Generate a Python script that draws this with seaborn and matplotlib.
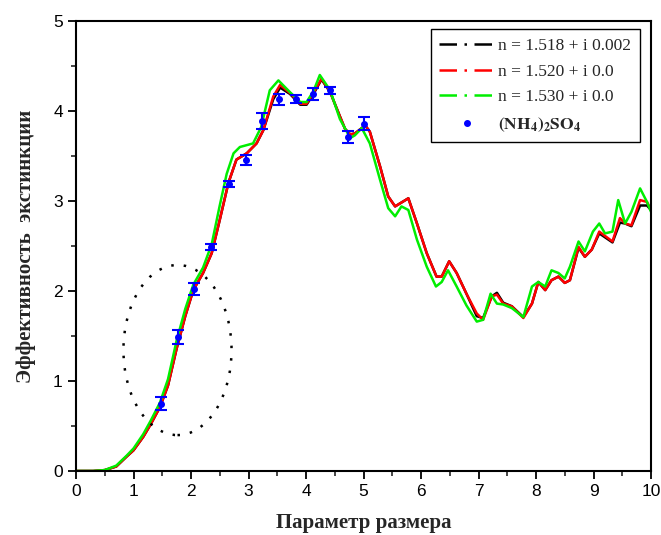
import matplotlib
matplotlib.use("Agg")
import matplotlib.pyplot as plt
from matplotlib.lines import Line2D
from matplotlib.patches import Ellipse
import seaborn as sns
import numpy as np

# ---------------- data ----------------
x_black = [0.0, 0.3, 0.5, 0.7, 0.88, 1.0, 1.17, 1.3, 1.46, 1.6, 1.75, 1.9, 2.04, 2.21, 2.36,
           2.50, 2.65, 2.79, 2.97, 3.14, 3.26, 3.43, 3.55, 3.72, 3.90, 4.01, 4.13, 4.27, 4.42,
           4.59, 4.68, 4.77, 4.85, 5.03, 5.11, 5.29, 5.43, 5.55, 5.78, 5.93, 6.10, 6.27, 6.36,
           6.49, 6.62, 6.79, 6.97, 7.08, 7.23, 7.32, 7.43, 7.58, 7.78, 7.93, 8.04, 8.16, 8.27,
           8.39, 8.50, 8.59, 8.74, 8.85, 8.97, 9.10, 9.33, 9.46, 9.55, 9.66, 9.81, 9.93, 10.0]
y_black = [0.0, 0.0, 0.01, 0.05, 0.16, 0.23, 0.38, 0.52, 0.71, 0.95, 1.36, 1.72, 2.01, 2.20, 2.42,
           2.79, 3.20, 3.46, 3.53, 3.64, 3.79, 4.13, 4.26, 4.19, 4.07, 4.07, 4.19, 4.35, 4.21,
           3.94, 3.80, 3.74, 3.75, 3.84, 3.77, 3.38, 3.05, 2.94, 3.03, 2.75, 2.42, 2.16, 2.16,
           2.33, 2.20, 1.97, 1.72, 1.70, 1.94, 1.98, 1.87, 1.83, 1.71, 1.86, 2.10, 2.01, 2.12,
           2.16, 2.09, 2.12, 2.48, 2.38, 2.46, 2.64, 2.54, 2.76, 2.75, 2.72, 2.95, 2.95, 2.90]

x_red = x_black
y_red = [0.0, 0.0, 0.01, 0.05, 0.16, 0.23, 0.38, 0.52, 0.71, 0.95, 1.36, 1.72, 2.01, 2.20, 2.42,
         2.79, 3.20, 3.46, 3.53, 3.64, 3.79, 4.16, 4.29, 4.20, 4.08, 4.08, 4.20, 4.36, 4.21,
         3.94, 3.80, 3.74, 3.75, 3.84, 3.77, 3.38, 3.05, 2.94, 3.03, 2.75, 2.42, 2.16, 2.16,
         2.33, 2.20, 1.97, 1.75, 1.68, 1.94, 1.96, 1.86, 1.83, 1.70, 1.86, 2.10, 2.01, 2.12,
         2.16, 2.09, 2.12, 2.49, 2.38, 2.46, 2.66, 2.55, 2.81, 2.75, 2.73, 3.01, 2.99, 2.90]

x_green = [0.0, 0.3, 0.5, 0.7, 0.88, 1.0, 1.17, 1.3, 1.46, 1.6, 1.75, 1.9, 2.04, 2.21, 2.36,
           2.50, 2.62, 2.74, 2.85, 3.08, 3.22, 3.37, 3.52, 3.72, 3.90, 4.01, 4.13, 4.24, 4.42,
           4.59, 4.77, 4.85, 4.97, 5.11, 5.29, 5.43, 5.55, 5.66, 5.78, 5.93, 6.10, 6.26, 6.36,
           6.47, 6.62, 6.79, 6.97, 7.08, 7.21, 7.32, 7.43, 7.58, 7.78, 7.93, 8.04, 8.16, 8.27,
           8.39, 8.50, 8.59, 8.74, 8.85, 8.99, 9.10, 9.20, 9.33, 9.43, 9.55, 9.66, 9.81, 9.93, 10.0]
y_green = [0.0, 0.0, 0.01, 0.06, 0.17, 0.25, 0.41, 0.56, 0.76, 1.02, 1.45, 1.80, 2.07, 2.26, 2.52,
           2.95, 3.30, 3.53, 3.60, 3.64, 3.82, 4.23, 4.34, 4.21, 4.10, 4.10, 4.22, 4.40, 4.23,
           3.91, 3.70, 3.73, 3.81, 3.64, 3.23, 2.92, 2.83, 2.94, 2.90, 2.57, 2.27, 2.05, 2.10,
           2.23, 2.05, 1.84, 1.66, 1.68, 1.97, 1.86, 1.85, 1.81, 1.71, 2.05, 2.10, 2.05, 2.23,
           2.20, 2.14, 2.27, 2.55, 2.44, 2.66, 2.75, 2.64, 2.66, 3.01, 2.75, 2.88, 3.14, 2.99, 2.88]

x_meas = [1.47, 1.77, 2.06, 2.35, 2.66, 2.95, 3.24, 3.53, 3.83, 4.13, 4.42, 4.73, 5.01]
y_meas = [0.75, 1.49, 2.02, 2.49, 3.19, 3.46, 3.89, 4.13, 4.13, 4.19, 4.23, 3.71, 3.86]
e_meas = [0.075, 0.075, 0.065, 0.037, 0.03, 0.055, 0.09, 0.06, 0.045, 0.063, 0.037, 0.07, 0.07]

labels = ["n = 1.518 + i 0.002", "n = 1.520 + i 0.0", "n = 1.530 + i 0.0",
          r"$\mathbf{(NH_4)_2SO_4}$"]
x_ticks = [0, 1, 2, 3, 4, 5, 6, 7, 8, 9, 10]
y_ticks = [0, 1, 2, 3, 4, 5]
xlabel = "Параметр размера"
ylabel = "Эффективность  экстинкции"

# ---------------- figure ----------------
sns.set_style("ticks")
plt.rcParams["font.family"] = ["Liberation Sans", "DejaVu Sans"]
plt.rcParams["mathtext.fontset"] = "stix"

fig = plt.figure(figsize=(6.61, 5.35), dpi=100)
ax = fig.add_axes([76/661, 1 - 471/535, 575/661, 450/535])

sns.lineplot(x=x_black, y=y_black, color="black", lw=1.8, sort=False, estimator=None, ax=ax)
sns.lineplot(x=x_red, y=y_red, color="#ff0000", lw=1.8, sort=False, estimator=None, ax=ax)
sns.lineplot(x=x_green, y=y_green, color="#00ee00", lw=1.8, sort=False, estimator=None, ax=ax)

ax.errorbar(x_meas, y_meas, yerr=e_meas, fmt="o", color="#0000ff", ms=4,
            elinewidth=1.5, capsize=4, capthick=1.5, zorder=5)

ell = Ellipse((1.765, 1.344), 1.88, 1.89, fill=False, edgecolor="black",
              linestyle=(0, (1, 4)), linewidth=1.8, zorder=4)
ax.add_patch(ell)

ax.set_xlim(0, 10)
ax.set_ylim(0, 5)
ax.set_xticks(x_ticks)
ax.set_yticks(y_ticks)
ax.set_xticks(np.arange(0.5, 10, 1.0), minor=True)
ax.set_yticks(np.arange(0.5, 5, 1.0), minor=True)
ax.tick_params(axis="both", which="major", direction="out", length=6, width=1.3,
               labelsize=12.5, colors="black")
ax.tick_params(axis="both", which="minor", direction="out", length=3.5, width=1.2)
for sp in ax.spines.values():
    sp.set_linewidth(1.5)
    sp.set_color("black")
    sp.set_visible(True)

ax.set_xlabel(xlabel, fontfamily="Liberation Serif", fontweight="bold", fontsize=15,
              labelpad=10)
ax.set_ylabel(ylabel, fontfamily="Liberation Serif", fontweight="bold", fontsize=15,
              labelpad=12)

handles = [
    Line2D([], [], color="black", lw=1.8, linestyle=(0, (7, 3, 1, 3))),
    Line2D([], [], color="#ff0000", lw=1.8, linestyle=(0, (7, 3, 1, 3))),
    Line2D([], [], color="#00ee00", lw=1.8, linestyle=(0, (7, 3, 1, 3))),
    Line2D([], [], color="#0000ff", marker="o", ms=4, linestyle="none"),
]
leg = ax.legend(handles, labels, loc="upper right", bbox_to_anchor=(0.981, 0.982),
                borderaxespad=0, frameon=True, fancybox=False, framealpha=1,
                edgecolor="black", prop={"family": "Liberation Serif", "size": 12.5},
                handlelength=3.2, handletextpad=0.2, labelspacing=0.55, borderpad=0.5)
leg.get_frame().set_linewidth(1.0)

fig.savefig("out.png", dpi=100)
